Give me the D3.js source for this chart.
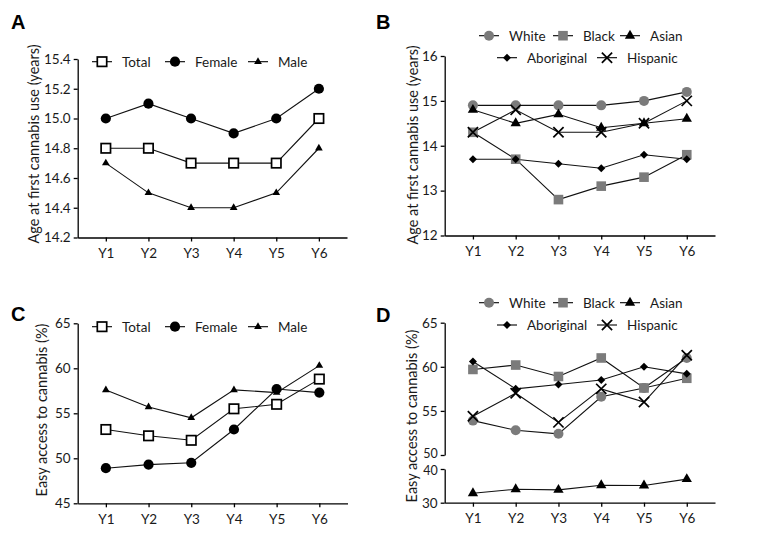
<!DOCTYPE html>
<html lang="en">
  <head>
    <meta charset="UTF-8">
    <title>Cannabis use by year</title>
    <script src="https://d3js.org/d3.v7.min.js"></script>
    <style>
      body { margin: 0; background: #fff; }
      svg { display: block; }
      .axis .domain, .axis line { stroke: #000; stroke-width: 1.3; }
      .axis text { font-family: Lato, "Open Sans", sans-serif; font-size: 13.5px; fill: #1a1a1a; }
      .title { font-family: Lato, "Open Sans", sans-serif; font-size: 14.5px; fill: #1a1a1a; }
      .legend text { font-family: Lato, "Open Sans", sans-serif; font-size: 13.5px; fill: #1a1a1a; }
      .label { font-family: "Liberation Sans", Arial, sans-serif; font-size: 20px; font-weight: bold; }
    </style>
  </head>
  <body>
    <div id="chart"></div>
    <script>
      // categories
      const years = ["Y1", "Y2", "Y3", "Y4", "Y5", "Y6"];
      const sexGroups = ["Total", "Female", "Male"];
      const raceGroups = ["White", "Black", "Asian", "Aboriginal", "Hispanic"];

      // A: age at first use by sex
      const ageTotal  = [14.8, 14.8, 14.7, 14.7, 14.7, 15.0];
      const ageFemale = [15.0, 15.1, 15.0, 14.9, 15.0, 15.2];
      const ageMale   = [14.7, 14.5, 14.4, 14.4, 14.5, 14.8];

      // B: age at first use by ethnicity
      const ageWhite      = [14.9, 14.9, 14.9, 14.9, 15.0, 15.2];
      const ageBlack      = [14.3, 13.7, 12.8, 13.1, 13.3, 13.8];
      const ageAsian      = [14.8, 14.5, 14.7, 14.4, 14.5, 14.6];
      const ageAboriginal = [13.7, 13.7, 13.6, 13.5, 13.8, 13.7];
      const ageHispanic   = [14.3, 14.8, 14.3, 14.3, 14.5, 15.0];

      // C: easy access by sex
      const accessTotal  = [53.2, 52.5, 52.0, 55.5, 56.0, 58.8];
      const accessFemale = [48.9, 49.3, 49.5, 53.2, 57.7, 57.3];
      const accessMale   = [57.6, 55.7, 54.5, 57.6, 57.3, 60.3];

      // D: easy access by ethnicity
      const accessWhite      = [53.9, 52.8, 52.4, 56.6, 57.6, 61.0];
      const accessBlack      = [59.7, 60.2, 58.9, 61.0, 57.6, 58.7];
      const accessAsian      = [32.8, 34.0, 33.8, 35.2, 35.1, 37.0];
      const accessAboriginal = [60.6, 57.5, 58.0, 58.5, 60.0, 59.2];
      const accessHispanic   = [54.4, 57.0, 53.7, 57.5, 56.0, 61.3];

      // tick values
      const ageSexTicks = [14.2, 14.4, 14.6, 14.8, 15.0, 15.2, 15.4];
      const ageRaceTicks = [12, 13, 14, 15, 16];
      const accessSexTicks = [45, 50, 55, 60, 65];
      const accessUpperTicks = [50, 55, 60, 65];
      const accessLowerTicks = [30, 40];

      const grey = "#7b7b7b";

      const svg = d3.select("#chart")
        .append("svg")
        .attr("width", 764)
        .attr("height", 550);

      // draw one marker of a series at (cx, cy)
      function marker(g, name, cx, cy) {
        const t = "translate(" + cx + "," + cy + ")";
        if (name == "Total") {
          g.append("rect").attr("x", cx - 4.7).attr("y", cy - 4.7)
            .attr("width", 9.4).attr("height", 9.4)
            .attr("fill", "#fff").attr("stroke", "#000").attr("stroke-width", 1.7);
        } else if (name == "Female") {
          g.append("circle").attr("cx", cx).attr("cy", cy).attr("r", 5.1).attr("fill", "#000");
        } else if (name == "Male") {
          g.append("path").attr("transform", t)
            .attr("d", d3.symbol().type(d3.symbolTriangle).size(26)()).attr("fill", "#000");
        } else if (name == "White") {
          g.append("circle").attr("cx", cx).attr("cy", cy).attr("r", 5).attr("fill", grey);
        } else if (name == "Black") {
          g.append("rect").attr("x", cx - 4.8).attr("y", cy - 4.8)
            .attr("width", 9.6).attr("height", 9.6).attr("fill", grey);
        } else if (name == "Asian") {
          g.append("path").attr("transform", t)
            .attr("d", d3.symbol().type(d3.symbolTriangle).size(46)()).attr("fill", "#000");
        } else if (name == "Aboriginal") {
          g.append("path").attr("transform", t + " rotate(45)")
            .attr("d", d3.symbol().type(d3.symbolSquare).size(32)()).attr("fill", "#000");
        } else if (name == "Hispanic") {
          g.append("path").attr("transform", t)
            .attr("d", d3.symbol().type(d3.symbolX).size(70)())
            .attr("fill", "none").attr("stroke", "#000").attr("stroke-width", 1.7);
        }
      }

      function legend(items) {
        const g = svg.append("g").attr("class", "legend");
        items.forEach(function (it) {
          g.append("line")
            .attr("x1", it.x - 10).attr("x2", it.x + 10)
            .attr("y1", it.y).attr("y2", it.y)
            .attr("stroke", "#000").attr("stroke-width", 1.1);
          marker(g, it.name, it.x, it.y);
          g.append("text")
            .attr("x", it.x + 20).attr("y", it.y).attr("dy", "0.36em")
            .text(it.name);
        });
      }

      function panel(cfg) {
        const x = d3.scalePoint().domain(years)
          .range([cfg.x0, cfg.x1]).padding(0.66);

        // x axis
        svg.append("g").attr("class", "axis")
          .attr("transform", "translate(0," + cfg.yBottom + ")")
          .call(d3.axisBottom(x).tickSize(4).tickSizeOuter(0).tickPadding(7));

        // y axis (one or more segments)
        cfg.yScales.forEach(function (s) {
          const ax = svg.append("g").attr("class", "axis")
            .attr("transform", "translate(" + cfg.x0 + ",0)")
            .call(d3.axisLeft(s.scale).tickValues(s.ticks).tickSize(4)
              .tickSizeOuter(0).tickPadding(3).tickFormat(s.format || d3.format("d")));
          // labels next to the axis break sit a little tighter
          if (s.shift) {
            ax.selectAll(".tick text")
              .filter(function (d) { return d == s.shift.value; })
              .style("font-size", "12.5px")
              .attr("dy", s.shift.dy);
          }
        });

        // lines
        const lineG = svg.append("g");
        cfg.series.forEach(function (s) {
          const y = s.scale;
          const line = d3.line()
            .x(function (d, i) { return x(years[i]); })
            .y(function (d) { return y(d); });
          lineG.append("path")
            .datum(s.values)
            .attr("fill", "none")
            .attr("stroke", "#111")
            .attr("stroke-width", 1.1)
            .attr("d", line);
        });

        // markers
        const markG = svg.append("g");
        cfg.series.forEach(function (s) {
          s.values.forEach(function (v, i) {
            marker(markG, s.name, x(years[i]), s.scale(v));
          });
        });

        // y axis title
        svg.append("text")
          .attr("class", "title")
          .attr("transform", "translate(" + cfg.titleX + "," + cfg.titleY + ") rotate(-90)")
          .attr("text-anchor", "middle")
          .text(cfg.title);

        // panel letter
        svg.append("text")
          .attr("class", "label")
          .attr("x", cfg.labelX).attr("y", cfg.labelY)
          .text(cfg.label);

        legend(cfg.legend);
      }

      // A
      const yA = d3.scaleLinear().domain([14.2, 15.4]).range([237.5, 59]);
      panel({
        label: "A", labelX: 11, labelY: 29,
        x0: 77.7, x1: 347, yBottom: 237.5,
        yScales: [{ scale: yA, ticks: ageSexTicks, format: d3.format(".1f") }],
        series: [
          { name: sexGroups[0], values: ageTotal, scale: yA },
          { name: sexGroups[1], values: ageFemale, scale: yA },
          { name: sexGroups[2], values: ageMale, scale: yA }
        ],
        title: "Age at first cannabis use (years)", titleX: 39, titleY: 144,
        legend: [
          { name: sexGroups[0], x: 102, y: 61.7 },
          { name: sexGroups[1], x: 175, y: 61.7 },
          { name: sexGroups[2], x: 258, y: 61.7 }
        ]
      });

      // B
      const yB = d3.scaleLinear().domain([12, 16]).range([235.5, 56]);
      panel({
        label: "B", labelX: 376, labelY: 29,
        x0: 444.7, x1: 715, yBottom: 235.5,
        yScales: [{ scale: yB, ticks: ageRaceTicks }],
        series: raceGroups.map(function (n, i) {
          return { name: n, values: [ageWhite, ageBlack, ageAsian, ageAboriginal, ageHispanic][i], scale: yB };
        }),
        title: "Age at first cannabis use (years)", titleX: 418, titleY: 145,
        legend: [
          { name: raceGroups[0], x: 489, y: 35.7 },
          { name: raceGroups[1], x: 563, y: 35.7 },
          { name: raceGroups[2], x: 630, y: 35.7 },
          { name: raceGroups[3], x: 507, y: 57.7 },
          { name: raceGroups[4], x: 607, y: 57.7 }
        ]
      });

      // C
      const yC = d3.scaleLinear().domain([45, 65]).range([503.3, 323.3]);
      panel({
        label: "C", labelX: 11, labelY: 321,
        x0: 77.7, x1: 347.5, yBottom: 503.3,
        yScales: [{ scale: yC, ticks: accessSexTicks }],
        series: [
          { name: sexGroups[0], values: accessTotal, scale: yC },
          { name: sexGroups[1], values: accessFemale, scale: yC },
          { name: sexGroups[2], values: accessMale, scale: yC }
        ],
        title: "Easy access to cannabis (%)", titleX: 47, titleY: 410,
        legend: [
          { name: sexGroups[0], x: 102, y: 326.7 },
          { name: sexGroups[1], x: 175, y: 326.7 },
          { name: sexGroups[2], x: 258, y: 326.7 }
        ]
      });

      // D, with a broken y axis
      const yDUpper = d3.scaleLinear().domain([50, 65]).range([455, 322.7]);
      const yDLower = d3.scaleLinear().domain([30, 40]).range([502.7, 469]);
      const accessRace = [accessWhite, accessBlack, accessAsian, accessAboriginal, accessHispanic];
      panel({
        label: "D", labelX: 376, labelY: 322,
        x0: 444.7, x1: 715, yBottom: 502.7,
        yScales: [
          { scale: yDUpper, ticks: accessUpperTicks, shift: { value: 50, dy: "0.22em" } },
          { scale: yDLower, ticks: accessLowerTicks, shift: { value: 40, dy: "0.44em" } }
        ],
        series: raceGroups.map(function (n, i) {
          return { name: n, values: accessRace[i], scale: n == "Asian" ? yDLower : yDUpper };
        }),
        title: "Easy access to cannabis (%)", titleX: 417, titleY: 416,
        legend: [
          { name: raceGroups[0], x: 489, y: 302.7 },
          { name: raceGroups[1], x: 563, y: 302.7 },
          { name: raceGroups[2], x: 630, y: 302.7 },
          { name: raceGroups[3], x: 507, y: 325 },
          { name: raceGroups[4], x: 607, y: 325 }
        ]
      });
    </script>
  </body>
</html>
